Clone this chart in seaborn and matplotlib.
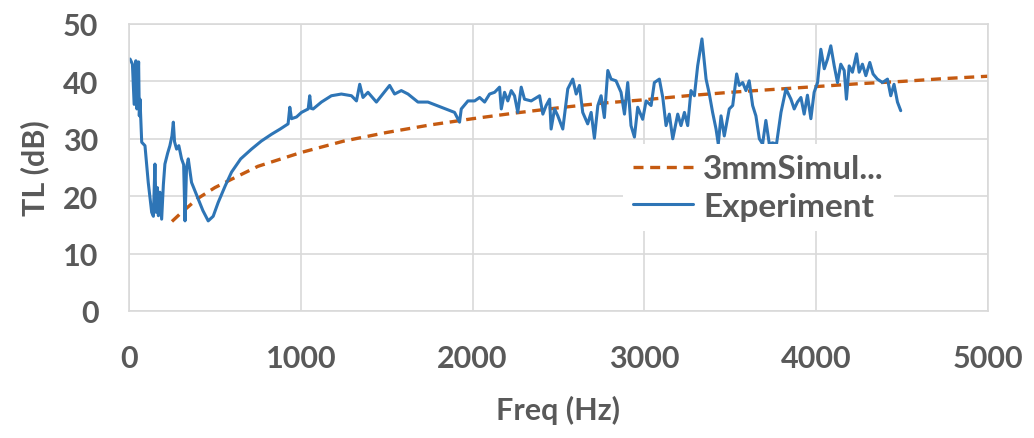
import numpy as np
import pandas as pd
import matplotlib
matplotlib.use("Agg")
import matplotlib.pyplot as plt
import seaborn as sns

# ---- data ----
sim_freq = [250, 300, 400, 500, 600, 750, 1000, 1250, 1500, 1750, 2000, 2250, 2500,
            2750, 3000, 3250, 3500, 3750, 4000, 4250, 4500, 4750, 5000]
sim_tl = [15.6, 17.0, 19.6, 21.5, 23.0, 25.2, 27.6, 29.6, 31.1, 32.4, 33.5, 34.5, 35.4,
          36.2, 36.8, 37.5, 38.1, 38.6, 39.1, 39.6, 40.0, 40.5, 40.9]

exp_freq = [6, 20, 30, 40, 46, 56, 60, 64, 74, 93, 112, 132, 142, 151, 158, 165, 171, 180,
            190, 200, 209, 225, 238, 250, 258, 265, 277, 290, 306, 318, 326, 335, 345, 364,
            403, 430, 461, 490, 519, 560, 597, 650, 713, 770, 830, 880, 926, 936, 946, 975,
            1004, 1043, 1052, 1060, 1072, 1120, 1178, 1236, 1295, 1324, 1343, 1362, 1391,
            1440, 1469, 1517, 1546, 1585, 1624, 1682, 1740, 1818, 1895, 1924, 1934, 1973,
            2012, 2041, 2070, 2099, 2128, 2157, 2167, 2186, 2205, 2225, 2244, 2263, 2283,
            2302, 2341, 2390, 2409, 2428, 2448, 2457, 2477, 2496, 2525, 2554, 2583, 2603,
            2622, 2641, 2670, 2690, 2709, 2729, 2748, 2767, 2787, 2806, 2835, 2864, 2884,
            2903, 2922, 2942, 2961, 2990, 3010, 3039, 3058, 3087, 3107, 3126, 3145, 3165,
            3194, 3213, 3233, 3252, 3271, 3291, 3310, 3335, 3359, 3378, 3397, 3417, 3430,
            3446, 3465, 3494, 3514, 3537, 3552, 3572, 3591, 3610, 3630, 3649, 3669, 3688,
            3707, 3727, 3746, 3769, 3795, 3824, 3853, 3872, 3891, 3911, 3930, 3949, 3969,
            3988, 4008, 4027, 4047, 4066, 4085, 4105, 4124, 4143, 4163, 4176, 4192, 4211,
            4235, 4250, 4269, 4289, 4312, 4331, 4356, 4386, 4415, 4434, 4453, 4473, 4492]
exp_tl = [43.9, 43.0, 36.0, 43.6, 35.2, 43.4, 34.0, 36.9, 29.4, 28.8, 22.4, 17.2, 16.5,
          25.6, 17.2, 21.5, 16.6, 20.7, 16.0, 22.0, 25.6, 27.5, 28.8, 30.5, 32.9, 29.5,
          28.2, 28.8, 26.5, 25.5, 15.7, 25.0, 26.5, 22.4, 19.5, 17.5, 15.7, 16.5, 18.9,
          21.8, 24.2, 26.5, 28.2, 29.6, 30.8, 31.7, 32.6, 35.5, 33.5, 33.8, 34.6, 35.2,
          37.5, 35.3, 35.2, 36.4, 37.5, 37.8, 37.5, 36.6, 39.5, 37.2, 38.1, 36.4, 37.5,
          39.3, 37.8, 38.4, 37.8, 36.4, 36.4, 35.5, 34.6, 32.9, 35.2, 36.6, 36.6, 37.2,
          36.4, 37.8, 38.1, 39.0, 35.2, 38.1, 36.6, 38.4, 37.5, 34.6, 39.0, 36.9, 36.6,
          37.5, 34.3, 35.8, 36.9, 31.7, 35.2, 34.0, 31.7, 38.7, 40.4, 37.8, 39.3, 34.6,
          32.6, 34.6, 30.1, 35.8, 37.5, 33.7, 41.9, 40.4, 40.1, 38.1, 34.3, 39.8, 32.3,
          30.3, 35.5, 33.4, 36.6, 35.8, 39.8, 40.4, 37.2, 32.3, 34.3, 30.0, 34.3, 32.3,
          34.6, 32.3, 38.4, 37.5, 42.7, 47.4, 40.4, 37.8, 34.6, 31.7, 29.1, 34.0, 30.5,
          35.2, 35.8, 41.3, 39.3, 39.8, 38.4, 40.1, 35.8, 34.0, 30.0, 29.1, 33.2, 29.1,
          29.3, 29.1, 34.6, 38.7, 36.9, 35.2, 36.4, 37.2, 34.3, 37.6, 33.5, 38.1, 39.8,
          45.6, 42.2, 43.9, 46.2, 42.7, 39.8, 43.0, 41.9, 36.9, 42.7, 41.6, 44.8, 41.6,
          43.0, 41.0, 43.3, 41.3, 40.4, 39.8, 40.4, 37.5, 39.5, 36.4, 34.9]

x_ticks = [0, 1000, 2000, 3000, 4000, 5000]
y_ticks = [0, 10, 20, 30, 40, 50]
series_names = ["3mmSimul...", "Experiment"]

# ---- style ----
sns.set_theme(style="whitegrid")
plt.rcParams["font.family"] = ["Lato", "DejaVu Sans"]
TXT = "#595959"
GRID = "#d9d9d9"
BLUE = "#2E75B6"
ORANGE = "#C55A11"

fig = plt.figure(figsize=(10.34, 4.39), dpi=100)
ax = fig.add_axes([129 / 1034, 1 - 312 / 439, 859 / 1034, 287 / 439])

sim_df = pd.DataFrame({"Freq": sim_freq, "TL": sim_tl})
exp_df = pd.DataFrame({"Freq": exp_freq, "TL": exp_tl})

sns.lineplot(data=sim_df, x="Freq", y="TL", ax=ax, color=ORANGE, linewidth=2.4,
             linestyle=(0, (3, 2)), estimator=None, label=series_names[0])
sns.lineplot(data=exp_df, x="Freq", y="TL", ax=ax, color=BLUE, linewidth=2.2,
             estimator=None, label=series_names[1])

ax.set_xlim(0, 5000)
ax.set_ylim(0, 50)
ax.set_xticks(x_ticks)
ax.set_yticks(y_ticks)
ax.set_xticklabels([str(t) for t in x_ticks])
ax.set_yticklabels([str(t) for t in y_ticks])

ax.grid(True, color=GRID, linewidth=1.2)
ax.set_axisbelow(True)
for s in ax.spines.values():
    s.set_color(GRID)
    s.set_linewidth(1.2)

ax.tick_params(axis="both", length=0, labelsize=22, labelcolor=TXT)
ax.tick_params(axis="x", pad=24)
ax.tick_params(axis="y", pad=22)
for lab in ax.get_xticklabels() + ax.get_yticklabels():
    lab.set_fontweight("bold")

ax.set_xlabel("Freq (Hz)", fontsize=22, fontweight="bold", color=TXT, labelpad=16)
ax.set_ylabel("TL (dB)", fontsize=22, fontweight="bold", color=TXT, labelpad=10)

leg = ax.legend(loc="center left", bbox_to_anchor=(0.575, 0.43), frameon=True,
                fontsize=24, handlelength=1.8, handletextpad=0.3, labelspacing=0.25,
                borderpad=0.3, borderaxespad=0)
leg.get_frame().set_facecolor("white")
leg.get_frame().set_edgecolor("none")
leg.get_frame().set_alpha(1)
for t in leg.get_texts():
    t.set_color(TXT)
    t.set_fontweight("bold")

fig.savefig("out.png", dpi=100, facecolor="white")
